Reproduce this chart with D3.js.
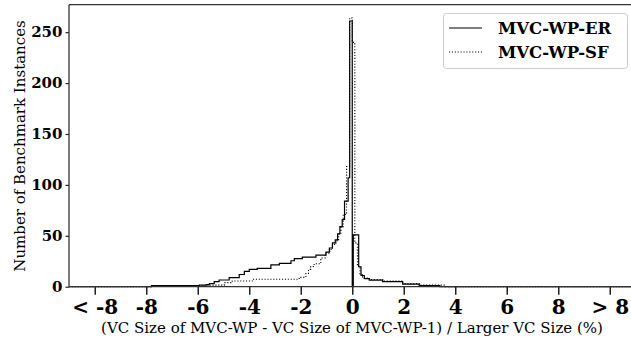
<!DOCTYPE html>
<html><head><meta charset="utf-8">
<script src="https://cdn.jsdelivr.net/npm/d3@7"></script>
<style>
html,body{margin:0;padding:0;background:#fff;}
svg{display:block;}
</style></head>
<body>
<script>
// ---- data (step histograms: edges length = counts length + 1) ----
const xTickValues = [-10, -8, -6, -4, -2, 0, 2, 4, 6, 8, 10];
const xTickLabels = ["< -8", "-8", "-6", "-4", "-2", "0", "2", "4", "6", "8", "> 8"];
const yTickValues = [0, 50, 100, 150, 200, 250];
const seriesNames = ["MVC-WP-ER", "MVC-WP-SF"];

const erEdges = [-11, -7.8, -5.94, -5.67, -5.55, -5.36, -5.17, -4.78, -4.39, -4.19, -4.0, -3.69, -3.16, -2.83, -2.38, -2.25, -1.94, -1.41, -1.02, -0.89, -0.77, -0.66, -0.57, -0.48, -0.39, -0.30, -0.16, -0.1, 0, 0.04, 0.25, 0.34, 0.47, 0.66, 1.18, 1.96, 2.6, 3.4, 11];
const erCounts = [0, 1, 1.5, 2, 3, 5, 6.6, 9, 12, 15, 17, 18, 21.5, 23, 25.5, 27.5, 29, 31, 34, 38, 43, 46, 52, 59, 66, 84, 107, 261, 0, 51, 19.6, 11, 8, 6.5, 5, 2.5, 1.2, 0];

const sfEdges = [-11, -7.8, -5.55, -4.97, -4.66, -3.88, -2.06, -1.8, -1.70, -1.61, -1.48, -1.22, -1.05, -0.87, -0.77, -0.63, -0.53, -0.44, -0.35, -0.22, -0.1, 0, 0.1, 0.2, 0.3, 0.4, 0.66, 1.18, 1.96, 2.6, 3.6, 11];
const sfCounts = [0, 0.8, 1.5, 4, 5.6, 7.3, 9.2, 13, 17, 19.8, 22.5, 28.2, 33, 36.5, 41.6, 45, 51.5, 59, 71, 118, 264, 240, 43, 20, 12, 8.5, 7, 5.5, 3, 1.5, 0];

// ---- layout ----
const W = 631, H = 343;
const m = {left: 69, top: 5, bottom: 287};
const x = d3.scaleLinear().domain([-11, 11]).range([69, 635.5]);
const y = d3.scaleLinear().domain([0, 277]).range([286.7, 4.7]);

const svg = d3.select("body").append("svg").attr("width", W).attr("height", H);

svg.append("defs").append("clipPath").attr("id", "clip")
  .append("rect").attr("x", 69).attr("y", 4).attr("width", W - 69).attr("height", 284);

function stepPoints(edges, counts) {
  const pts = [[edges[0], 0]];
  counts.forEach((c, i) => { pts.push([edges[i], c]); pts.push([edges[i + 1], c]); });
  pts.push([edges[edges.length - 1], 0]);
  return pts;
}
const line = d3.line().x(d => x(d[0])).y(d => y(d[1]));

const g = svg.append("g").attr("clip-path", "url(#clip)");
g.append("path").datum(stepPoints(sfEdges, sfCounts))
  .attr("d", line).attr("fill", "none").attr("stroke", "#000")
  .attr("stroke-width", 1.1).attr("stroke-dasharray", "1.1,1.8");
g.append("path").datum(stepPoints(erEdges, erCounts))
  .attr("d", line).attr("fill", "none").attr("stroke", "#000")
  .attr("stroke-width", 1.2);

// ---- axes ----
const xAxis = d3.axisBottom(x).tickValues(xTickValues)
  .tickFormat((d, i) => xTickLabels[i]).tickSize(8).tickPadding(5);
const gx = svg.append("g").attr("transform", "translate(0,286.7)").call(xAxis);
gx.select(".domain").remove();
gx.selectAll(".tick line").attr("stroke", "#222").attr("stroke-width", 1.5);
gx.selectAll(".tick text").attr("font-family", "DejaVu Serif").attr("font-weight", "bold")
  .attr("font-size", "20px").attr("fill", "#000");

const yAxis = d3.axisLeft(y).tickValues(yTickValues).tickSize(3.5).tickPadding(3);
const gy = svg.append("g").attr("transform", "translate(69,0)").call(yAxis);
gy.select(".domain").remove();
gy.selectAll(".tick line").attr("stroke", "#222").attr("stroke-width", 1.2);
gy.selectAll(".tick text").attr("font-family", "DejaVu Serif").attr("font-weight", "bold")
  .attr("font-size", "15px").attr("fill", "#000");

// spines
const spine = {stroke: "#333", "stroke-width": 1.3};
function sp(x1, y1, x2, y2) {
  const l = svg.append("line").attr("x1", x1).attr("y1", y1).attr("x2", x2).attr("y2", y2);
  Object.entries(spine).forEach(([k, v]) => l.attr(k, v));
}
sp(69, 4.7, 69, 286.7);
sp(69, 4.7, W, 4.7);
sp(69, 286.7, W, 286.7);

// axis labels
svg.append("text").attr("x", 352).attr("y", 333)
  .attr("text-anchor", "middle").attr("font-family", "DejaVu Serif").attr("font-size", "15px")
  .text("(VC Size of MVC-WP - VC Size of MVC-WP-1) / Larger VC Size (%)");
svg.append("text").attr("transform", "translate(25,146) rotate(-90)")
  .attr("text-anchor", "middle").attr("font-family", "DejaVu Serif").attr("font-size", "15px")
  .text("Number of Benchmark Instances");

// legend
const lg = svg.append("g");
lg.append("rect").attr("x", 443.5).attr("y", 13.5).attr("width", 184).attr("height", 55)
  .attr("rx", 3).attr("fill", "#fff").attr("fill-opacity", 0.8).attr("stroke", "#ccc").attr("stroke-width", 1);
[0, 1].forEach(i => {
  const yy = i === 0 ? 28 : 52;
  lg.append("line").attr("x1", 449).attr("x2", 482).attr("y1", yy).attr("y2", yy)
    .attr("stroke", "#000").attr("stroke-width", i === 0 ? 1.2 : 1.1)
    .attr("stroke-dasharray", i === 0 ? null : "1.1,1.8");
  lg.append("text").attr("x", 498).attr("y", yy + 6)
    .attr("font-family", "DejaVu Serif").attr("font-weight", "bold").attr("font-size", "16.5px")
    .text(seriesNames[i]);
});
</script>
</body></html>
